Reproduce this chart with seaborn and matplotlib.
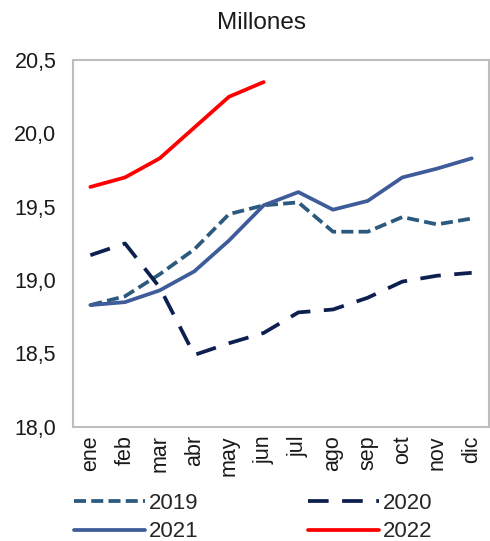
import pandas as pd
import matplotlib.pyplot as plt
import seaborn as sns
from matplotlib.ticker import FuncFormatter

# Data (millions)
months = ["ene", "feb", "mar", "abr", "may", "jun", "jul", "ago", "sep", "oct", "nov", "dic"]
y2019 = [18.83, 18.89, 19.04, 19.21, 19.45, 19.51, 19.53, 19.33, 19.33, 19.43, 19.38, 19.42]
y2020 = [19.17, 19.25, 18.95, 18.49, 18.57, 18.64, 18.78, 18.80, 18.88, 18.99, 19.03, 19.05]
y2021 = [18.83, 18.85, 18.93, 19.06, 19.27, 19.51, 19.60, 19.48, 19.54, 19.70, 19.76, 19.83]
y2022 = [19.635, 19.70, 19.83, 20.04, 20.25, 20.35]

series = {"2019": y2019, "2020": y2020, "2021": y2021, "2022": y2022}
styles = {
    "2019": dict(color="#2b5a7e", dashes=(3.2, 1.4)),
    "2020": dict(color="#0c1f4f", dashes=(5.5, 3.6)),
    "2021": dict(color="#3e5c99", dashes=None),
    "2022": dict(color="#ff0000", dashes=None),
}

sns.set_style("white")
plt.rcParams['font.family'] = ['Liberation Sans', 'DejaVu Sans']

fig = plt.figure(figsize=(4.9, 5.41), dpi=100)
ax = fig.add_axes([0.149, 0.211, 0.849, 0.678])

for name, vals in series.items():
    df = pd.DataFrame({"mes": months[:len(vals)], "valor": vals})
    sns.lineplot(data=df, x="mes", y="valor", ax=ax, color=styles[name]["color"],
                 linewidth=2.7, label=name, sort=False)
    if styles[name]["dashes"] is not None:
        ax.lines[-1].set_dashes(styles[name]["dashes"])

ax.set_xlim(-0.5, 11.5)
ax.set_ylim(18.0, 20.5)
ax.set_yticks([18.0, 18.5, 19.0, 19.5, 20.0, 20.5])
ax.yaxis.set_major_formatter(FuncFormatter(lambda v, p: f"{v:.1f}".replace(".", ",")))
ax.set_xlabel("")
ax.set_ylabel("")
ax.tick_params(axis="both", length=0, labelsize=15.5, colors="#1a1a1a")
ax.tick_params(axis="x", rotation=90, pad=6)
ax.tick_params(axis="y", pad=12)
for s in ax.spines.values():
    s.set_color("#bdbdbd")
    s.set_linewidth(1.5)

ax.set_title("Millones", fontsize=17.5, pad=22, color="#1a1a1a", x=0.453)

# legend rows: 2019 | 2020 / 2021 | 2022 (matplotlib fills column-wise)
handles, labels = ax.get_legend_handles_labels()
order = [0, 2, 1, 3]
ax.legend([handles[i] for i in order], [labels[i] for i in order], ncol=2,
          frameon=False, fontsize=16, loc="upper left", bbox_to_anchor=(-0.02, -0.155),
          handlelength=3.2, handletextpad=0.2, columnspacing=4.9,
          labelspacing=0.35, borderaxespad=0)

fig.savefig("out.png", dpi=100)
